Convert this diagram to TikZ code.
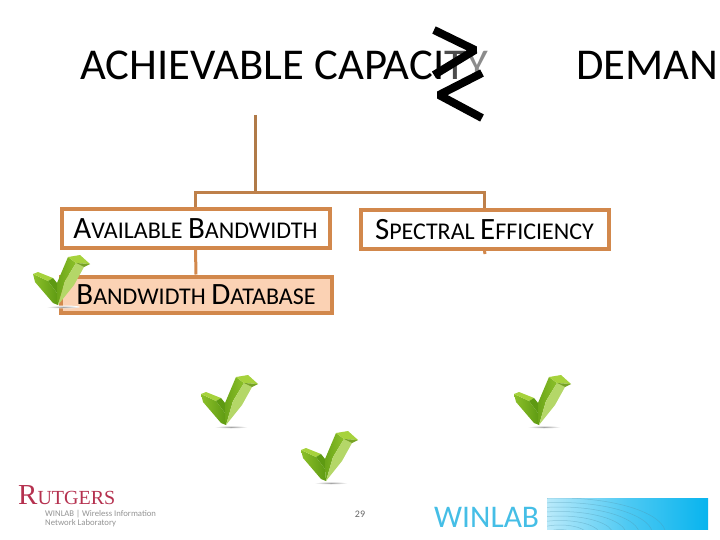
\documentclass[tikz,border=0pt]{standalone}
\usepackage{fontspec}
\setmainfont{Carlito}
\usepackage{xcolor}
\definecolor{stemtan}{HTML}{B07A48}
\definecolor{boxorange}{HTML}{D2884C}
\definecolor{dbpeach}{HTML}{FBD2B4}
\definecolor{rutgersred}{HTML}{B5314F}
\definecolor{winlabblue}{HTML}{45BEE6}
\definecolor{bandblue}{HTML}{08B4EE}
\definecolor{checkdark}{HTML}{5E9A12}
\definecolor{checkmid}{HTML}{8CC02A}
\definecolor{checklight}{HTML}{B4D768}
\definecolor{checktop}{HTML}{A6D23C}
\newcommand{\initcap}[1]{{\fontsize{31}{31}\selectfont #1}}
\tikzset{
  titletext/.style={inner sep=0pt, anchor=base west, font=\fontsize{44}{44}\selectfont, xscale=1.015, transform shape},
  levelbox/.style={draw=boxorange, line width=4pt, fill=white, inner sep=0pt, font=\fontsize{24}{24}\selectfont, text=black},
  link/.style={line width=3pt, color=boxorange},
  checkmark/.pic={
    % shadow under the tip
    \shade[inner color=gray!70, outer color=white] (29,52) ellipse (17 and 1.5);
    % left arm
    \shade[left color=checkmid, right color=checkdark] (-1,19) -- (14,26) -- (23,38) -- (24,50) -- (19,48) -- (1,27) -- cycle;
    \fill[color=checktop] (-1,19) -- (4,17) -- (19,23) -- (14,26) -- cycle;
    \fill[color=checkdark] (14,26) -- (19,23) -- (23,28) -- (23,38) -- cycle;
    % right arm
    \shade[left color=checkdark!70!checkmid, right color=checkmid] (23,28) -- (34,2) -- (42,8) -- (31,26) -- (24,50) -- (23,38) -- cycle;
    \fill[color=checklight] (24,50) -- (31,26) -- (42,8) -- (50,12) -- (40,30) -- cycle;
    \fill[color=checktop] (34,2) -- (46,0) -- (56,9) -- (42,8) -- cycle;
    \fill[color=checkmid!85!black] (42,8) -- (56,9) -- (50,12) -- cycle;
  }
}
\begin{document}
\begin{tikzpicture}[x=1pt, y=-1pt]
  \useasboundingbox (0,0) rectangle (720,540);
  % Title line
  \node[titletext] (capacity) at (80,80) {ACHIEVABLE CAPACI\textcolor{black!70}{T}\textcolor{black!45}{Y}};
  \node[titletext] (demand) at (576,80) {DEMAND};
  % Greater-or-equal sign
  \draw[line width=8pt, miter limit=2] (434,30) -- (475,50) -- (434,75);
  \draw[line width=8pt, miter limit=2] (482,73) -- (439,95) -- (482,118);
  % Boxes
  \node[levelbox, minimum width=268pt, minimum height=38pt] (avail) at (195.5,228.5)
    {\initcap{A}VAILABLE \initcap{B}ANDWIDTH};
  \node[levelbox, minimum width=248pt, minimum height=39pt] (spectral) at (484.5,229.5)
    {\initcap{S}PECTRAL \initcap{E}FFICIENCY};
  \node[levelbox, fill=dbpeach, minimum width=271pt, minimum height=36pt] (database) at (196,294.5)
    {\initcap{B}ANDWIDTH \initcap{D}ATABASE};
  % Tree above and below the boxes
  \coordinate (root) at (255,115);
  \coordinate (branch) at (255,193);
  \coordinate (stub) at (485,254);
  \draw[link, color=stemtan] (root) -- (branch);
  \draw[link, color=stemtan!60!boxorange] (avail.north) |- (branch) -| (spectral.north);
  \draw[link] (avail.south) -- (database.north);
  \draw[link] (spectral.south) -- (stub);
  % Check marks
  \pic at (34,255) {checkmark};
  \pic at (202,375) {checkmark};
  \pic at (302,431) {checkmark};
  \pic at (515,375) {checkmark};
  % Footer
  \node[inner sep=0pt, anchor=base west, text=rutgersred] (rutgers) at (18,504)
    {\fontspec{Liberation Serif}\fontsize{29}{29}\selectfont R\fontsize{20}{20}\selectfont UTGERS};
  \node[inner sep=0pt, anchor=north west, align=left, text=gray!85, font=\fontsize{8.7}{9.5}\selectfont] (lab) at (45,510)
    {WINLAB | Wireless Information\\Network Laboratory};
  \node[inner sep=0pt, text=gray!80!black, font=\fontsize{10}{10}\selectfont] (pagenum) at (360,514) {29};
  \node[inner sep=0pt, anchor=base west, text=winlabblue, font=\fontsize{31.5}{31.5}\selectfont] (winlab) at (434,527) {WINLAB};
  \shade[left color=bandblue!28, right color=bandblue, middle color=bandblue!72] (547,498) rectangle (708,529);
  \begin{scope}
    \clip (547,498) rectangle (708,529);
    \foreach \r in {6,12,...,48} {
      \draw[color=gray!60!bandblue, opacity=0.4, line width=0.5pt] (560,534) ellipse ({\r*2.2} and {\r*0.75});
    }
  \end{scope}
\end{tikzpicture}
\end{document}
